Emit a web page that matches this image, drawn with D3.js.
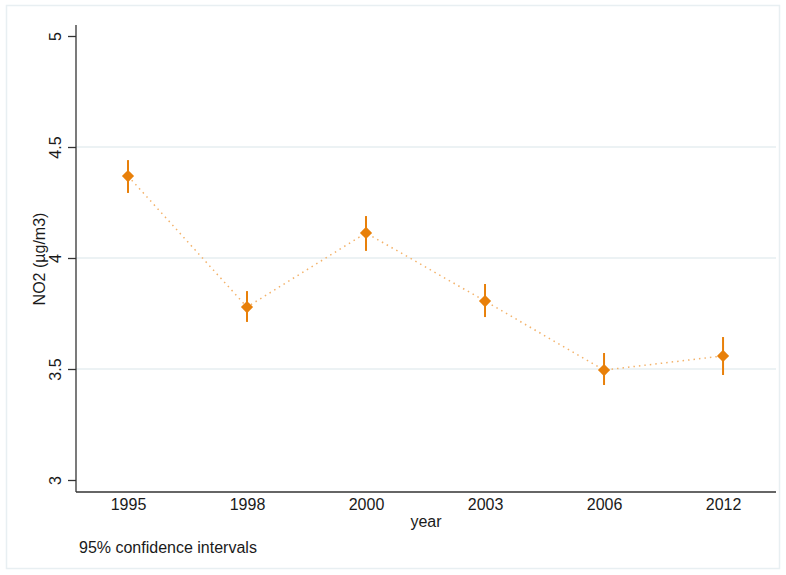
<!DOCTYPE html>
<html>
<head>
<meta charset="utf-8">
<script src="https://cdn.jsdelivr.net/npm/d3@7"></script>
<style>
  html, body { margin: 0; padding: 0; background: #fff; }
  svg { display: block; }
  text { font-family: "Liberation Sans", Arial, Helvetica, sans-serif; fill: #1a1a1a; }
</style>
</head>
<body>
<svg id="chart" width="786" height="575"></svg>
<script>
const years = ["1995", "1998", "2000", "2003", "2006", "2012"];
const means = [4.369, 3.779, 4.113, 3.806, 3.495, 3.559];
const ciLow = [4.293, 3.712, 4.032, 3.734, 3.428, 3.473];
const ciHigh = [4.441, 3.851, 4.189, 3.883, 3.572, 3.644];
const yTicks = [3, 3.5, 4, 4.5, 5];
const gridValues = [3.5, 4, 4.5];

const svg = d3.select("#chart");
const W = 786, H = 575;
const FS = 16;

// outer frame
svg.append("rect")
  .attr("x", 6.5).attr("y", 5.5).attr("width", 773).attr("height", 563)
  .attr("fill", "#fff").attr("stroke", "#e8eff2").attr("stroke-width", 1.5);

const x = d3.scaleLinear().domain([0.563, 6.445]).range([76, 776]);
const y = d3.scaleLinear().domain([3, 5]).range([480, 36]);

const plotTop = 25, plotBottom = 492, plotLeft = 76, plotRight = 776;

// gridlines
svg.append("g").selectAll("line").data(gridValues).join("line")
  .attr("x1", plotLeft).attr("x2", plotRight)
  .attr("y1", d => y(d)).attr("y2", d => y(d))
  .attr("stroke", "#e6eef1").attr("stroke-width", 1.5);

// y axis
const yAxis = svg.append("g").attr("transform", `translate(${plotLeft},0)`)
  .call(d3.axisLeft(y).tickValues(yTicks).tickFormat(d => d3.format("")(d)).tickSize(8).tickPadding(0));
yAxis.select(".domain").remove();
yAxis.append("line").attr("x1", 0).attr("x2", 0).attr("y1", plotTop).attr("y2", plotBottom)
  .attr("stroke", "#333").attr("stroke-width", 1.3);
yAxis.selectAll(".tick line").attr("stroke", "#333").attr("stroke-width", 1.3);
yAxis.selectAll(".tick text")
  .attr("font-size", FS)
  .attr("x", 0).attr("dy", 0)
  .attr("text-anchor", "middle")
  .attr("transform", "translate(-15,0) rotate(-90)")
  .attr("fill", "#1a1a1a");

// x axis
const xAxis = svg.append("g").attr("transform", `translate(0,${plotBottom})`)
  .call(d3.axisBottom(x).tickValues(d3.range(1, years.length + 1)).tickFormat(d => years[d - 1]).tickSize(0).tickPadding(7));
xAxis.select(".domain").remove();
xAxis.append("line").attr("x1", plotLeft).attr("x2", plotRight).attr("y1", 0).attr("y2", 0)
  .attr("stroke", "#333").attr("stroke-width", 1.3);
xAxis.selectAll(".tick text").attr("font-size", FS).attr("fill", "#1a1a1a");

// axis titles
svg.append("text")
  .attr("transform", `translate(45,259) rotate(-90)`)
  .attr("text-anchor", "middle").attr("font-size", FS).text("NO2 (µg/m3)");
svg.append("text")
  .attr("x", (plotLeft + plotRight) / 2).attr("y", 527)
  .attr("text-anchor", "middle").attr("font-size", FS).text("year");
svg.append("text")
  .attr("x", 79).attr("y", 553)
  .attr("font-size", FS).text("95% confidence intervals");

const orange = "#e8800a";

// connecting dotted line
const line = d3.line().x((d, i) => x(i + 1)).y(d => y(d));
svg.append("path").datum(means)
  .attr("d", line)
  .attr("fill", "none").attr("stroke", "#f3b26a").attr("stroke-width", 1.5)
  .attr("stroke-dasharray", "1.5,4");

// error bars
svg.append("g").selectAll("line").data(means).join("line")
  .attr("x1", (d, i) => x(i + 1)).attr("x2", (d, i) => x(i + 1))
  .attr("y1", (d, i) => y(ciLow[i])).attr("y2", (d, i) => y(ciHigh[i]))
  .attr("stroke", orange).attr("stroke-width", 2);

// diamond markers
const diamond = d3.symbol().type(d3.symbolDiamond2).size(95);
svg.append("g").selectAll("path").data(means).join("path")
  .attr("transform", (d, i) => `translate(${x(i + 1)},${y(d)})`)
  .attr("d", diamond)
  .attr("fill", orange);
</script>
</body>
</html>
